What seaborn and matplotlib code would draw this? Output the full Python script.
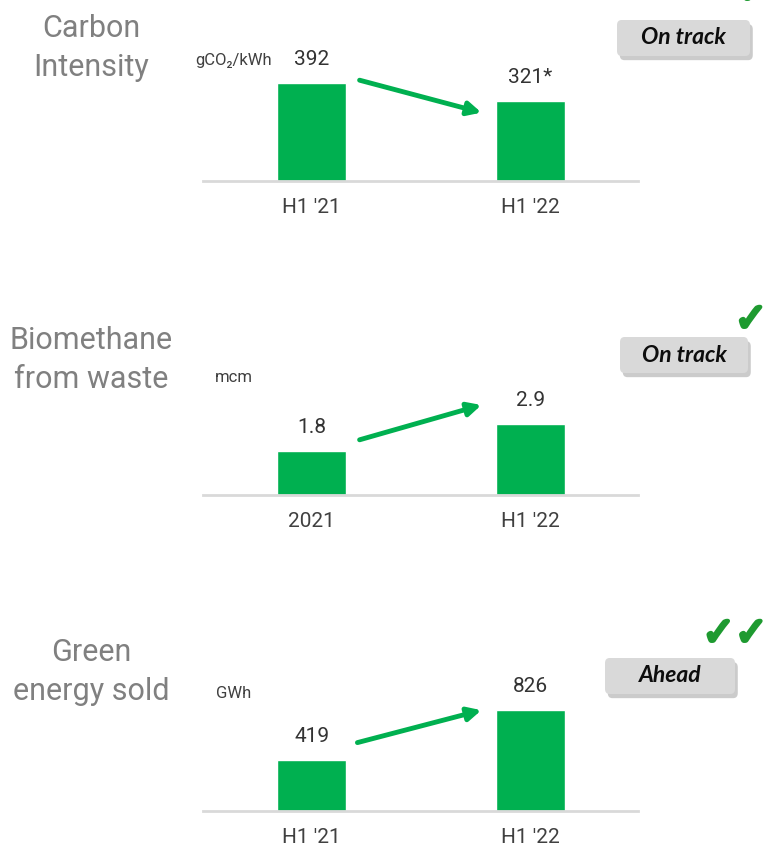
import matplotlib
matplotlib.use('Agg')
import matplotlib.pyplot as plt
import seaborn as sns
import pandas as pd
from matplotlib.patches import FancyBboxPatch
import matplotlib.patheffects as pe

# data
titles = ['Carbon\nIntensity', 'Biomethane\nfrom waste', 'Green\nenergy sold']
units = ['gCO₂/kWh', 'mcm', 'GWh']
periods = [["H1 '21", "H1 '22"], ['2021', "H1 '22"], ["H1 '21", "H1 '22"]]
values = [[392, 321], [1.8, 2.9], [419, 826]]
value_labels = [['392', '321*'], ['1.8', '2.9'], ['419', '826']]
status = ['On track', 'On track', 'Ahead']
checks = ['', '✓', '✓✓']

sns.set_style('white')
plt.rcParams['font.family'] = ['Roboto', 'DejaVu Sans']

GREEN = '#00b050'
CHECK = '#1e9a30'
W, H = 768, 851
fig = plt.figure(figsize=(7.68, 8.51), dpi=100)

baselines = [181, 495, 811]
ytops = [480, 4.92, 984]
title_y = [48, 360, 672]
unit_pos = [(195, 61), (215, 378), (216, 694)]
badge_box = [(617, 20, 133, 36), (620, 337, 128, 36), (605, 658, 130, 36)]
check_pos = [(751, 320), (735, 634)]
arrows = [((0.36, 0.84), (0.64, 0.57)), ((0.36, 0.46), (0.64, 0.75)), ((0.355, 0.57), (0.64, 0.84))]

for i in range(3):
    b = baselines[i]
    ax = fig.add_axes([203 / W, (H - b) / H, 435 / W, 120 / H])
    df = pd.DataFrame({'period': periods[i], 'value': values[i]})
    sns.barplot(data=df, x='period', y='value', color=GREEN, saturation=1,
                width=0.316, ax=ax)
    ax.set_xlim(-0.497, 1.494)
    ax.set_ylim(0, ytops[i])
    ax.set_xlabel('')
    ax.set_ylabel('')
    ax.set_yticks([])
    for s in ['top', 'right', 'left']:
        ax.spines[s].set_visible(False)
    ax.spines['bottom'].set_color('#d9d9d9')
    ax.spines['bottom'].set_linewidth(2)
    ax.tick_params(axis='x', length=0, labelsize=15, labelcolor='#404040', pad=12)
    for k, p in enumerate(ax.patches):
        ax.annotate(value_labels[i][k], (p.get_x() + p.get_width() / 2, p.get_height()),
                    xytext=(0, 10), textcoords='offset points', ha='center', va='bottom',
                    fontsize=15, color='#333333')
    ax.annotate('', xy=arrows[i][1], xytext=arrows[i][0], xycoords='axes fraction',
                textcoords='axes fraction', annotation_clip=False,
                arrowprops=dict(arrowstyle='-|>,head_length=0.8,head_width=0.4',
                                color=GREEN, lw=3.5, shrinkA=0, shrinkB=0))

    fig.text(91 / W, 1 - title_y[i] / H, titles[i], ha='center', va='center',
             fontsize=22, color='#808080', linespacing=1.4)
    ux, uy = unit_pos[i]
    fig.text(ux / W, 1 - uy / H, units[i], ha='left', va='center', fontsize=12, color='#404040')

    bx, by, bw, bh = badge_box[i]
    box = FancyBboxPatch((bx / W, 1 - (by + bh) / H), bw / W, bh / H,
                         boxstyle='round,pad=0,rounding_size=0.006', transform=fig.transFigure,
                         facecolor='#d9d9d9', edgecolor='none',
                         path_effects=[pe.SimplePatchShadow(offset=(2, -3), shadow_rgbFace='#8c8c8c', alpha=0.45),
                                       pe.Normal()])
    fig.add_artist(box)
    fig.text((bx + bw / 2) / W, 1 - (by + bh / 2) / H, status[i], ha='center', va='center',
             fontsize=16.5, fontweight='bold', fontstyle='italic', family=['Lato', 'DejaVu Sans'],
             color='#0d0d0d')

stroke = [pe.withStroke(linewidth=2.5, foreground=CHECK)]
for j, c in enumerate(checks[1:]):
    cx, cy = check_pos[j]
    fig.text(cx / W, 1 - cy / H, c, ha='center', va='center', fontsize=28,
             color=CHECK, family=['DejaVu Sans'], path_effects=stroke)
fig.text(754 / W, 1 + 8 / H, '✓', ha='center', va='center', fontsize=28,
         color=CHECK, family=['DejaVu Sans'], path_effects=stroke)

fig.savefig('out.png', dpi=100)
